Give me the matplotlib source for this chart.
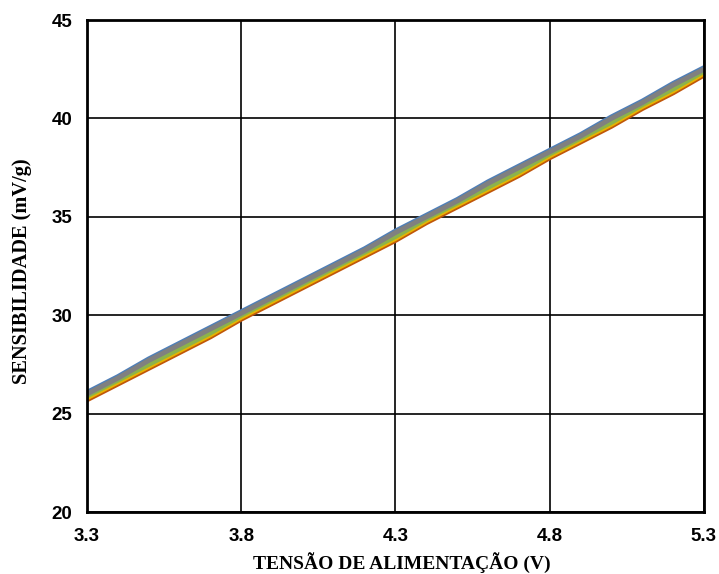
import matplotlib.pyplot as plt

# supply voltage (V) and sensitivity (mV/g) for the five measured units
tensao = [3.3, 3.4, 3.5, 3.6, 3.7, 3.8, 3.9, 4.0, 4.1, 4.2, 4.3,
          4.4, 4.5, 4.6, 4.7, 4.8, 4.9, 5.0, 5.1, 5.2, 5.3]
serie_azul = [26.1, 26.9, 27.8, 28.6, 29.4, 30.2, 31.0, 31.8, 32.6, 33.4, 34.3,
              35.1, 35.9, 36.8, 37.6, 38.4, 39.2, 40.1, 40.9, 41.8, 42.6]
serie_cinza = [26.0, 26.8, 27.7, 28.5, 29.3, 30.1, 30.9, 31.7, 32.5, 33.3, 34.2,
               35.0, 35.8, 36.7, 37.5, 38.3, 39.1, 40.0, 40.8, 41.7, 42.5]
serie_verde = [25.9, 26.7, 27.5, 28.3, 29.1, 30.0, 30.8, 31.6, 32.4, 33.2, 34.0,
               34.9, 35.7, 36.5, 37.3, 38.2, 39.0, 39.8, 40.7, 41.5, 42.4]
serie_amarela = [25.8, 26.6, 27.4, 28.2, 29.0, 29.9, 30.7, 31.5, 32.3, 33.1, 33.9,
                 34.8, 35.6, 36.4, 37.2, 38.1, 38.9, 39.7, 40.6, 41.4, 42.3]
serie_laranja = [25.7, 26.5, 27.3, 28.1, 28.9, 29.8, 30.6, 31.4, 32.2, 33.0, 33.8,
                 34.7, 35.5, 36.3, 37.1, 38.0, 38.8, 39.6, 40.5, 41.3, 42.2]

xticks = [3.3, 3.8, 4.3, 4.8, 5.3]
yticks = [20, 25, 30, 35, 40, 45]

tick_font = ['Liberation Sans', 'DejaVu Sans']
label_font = ['Liberation Serif', 'DejaVu Serif']

fig = plt.figure(figsize=(7.19, 5.74), dpi=100)
ax = fig.add_axes([0.121, 0.108, 0.858, 0.857])

# draw bottom line first so the upper ones sit on top
ax.plot(tensao, serie_laranja, color='#c0570a', lw=3.5, solid_capstyle='butt')
ax.plot(tensao, serie_amarela, color='#e8b400', lw=3.5, solid_capstyle='butt')
ax.plot(tensao, serie_verde, color='#8cb34a', lw=3.5, solid_capstyle='butt')
ax.plot(tensao, serie_cinza, color='#808080', lw=3.5, solid_capstyle='butt')
ax.plot(tensao, serie_azul, color='#4f7fb8', lw=3, solid_capstyle='butt', zorder=1.9)

ax.set_xlim(3.3, 5.3)
ax.set_ylim(20, 45)
ax.set_xticks(xticks)
ax.set_yticks(yticks)
ax.set_xticklabels(['3.3', '3.8', '4.3', '4.8', '5.3'],
                   fontfamily=tick_font, fontweight='bold', fontsize=13.5)
ax.set_yticklabels([str(v) for v in yticks],
                   fontfamily=tick_font, fontweight='bold', fontsize=13.5)
ax.tick_params(axis='both', length=0)
ax.tick_params(axis='x', pad=11.5)
ax.tick_params(axis='y', pad=10.5)
ax.grid(True, color='black', lw=1.2)
ax.set_axisbelow(True)
for s in ax.spines.values():
    s.set_linewidth(2)
    s.set_color('black')

# axis titles placed on the figure
fig.text(0.5584, 0.0087, 'TENSÃO DE ALIMENTAÇÃO (V)', fontfamily=label_font,
         fontweight='bold', fontsize=14, ha='center', va='baseline')
fig.text(0.0306, 0.528, 'SENSIBILIDADE (mV/g)', fontfamily=label_font,
         fontweight='bold', fontsize=14.7, ha='center', va='center', rotation=90)

plt.savefig('out.png', dpi=100)
